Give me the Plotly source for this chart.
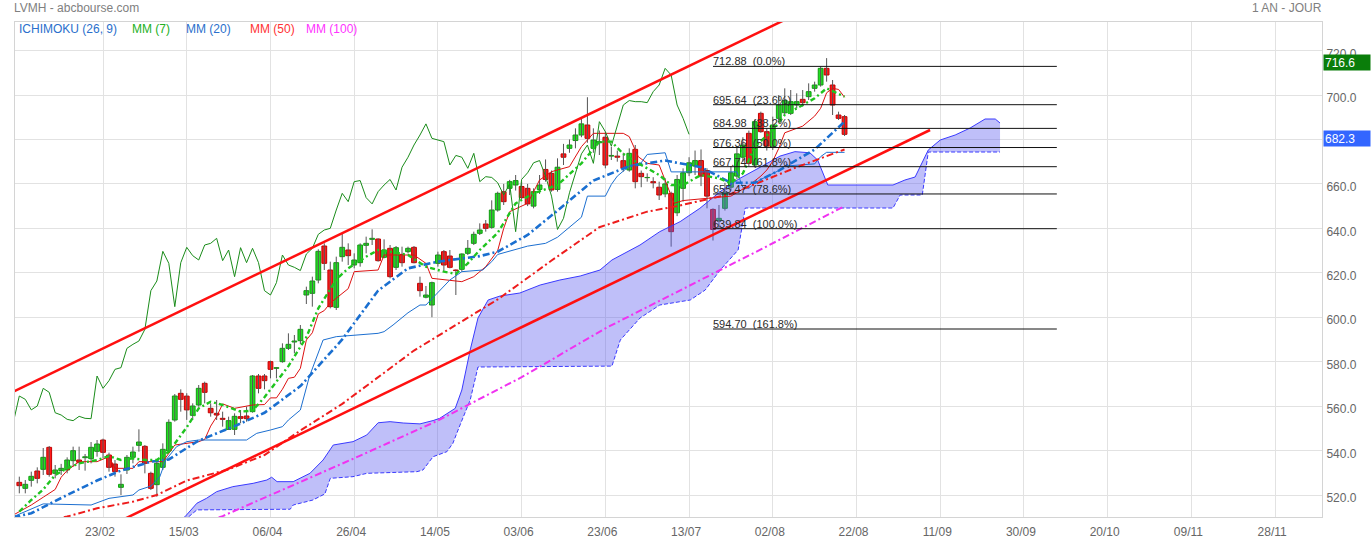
import plotly.graph_objects as go

# ---------------- DATA ----------------
day_idx = list(range(139))

opens = [
525.7, 523.0, 526.6, 530.8, 531.55, 541.45, 529.75, 531.0, 531.25, 535.45,
535.75, 536.8, 536.35, 539.65, 544.75, 538.0, 533.95, 523.45, 531.25, 536.95,
542.35, 541.9, 529.75, 524.65, 532.45, 539.8, 553.75, 565.75, 564.5, 555.85,
560.5, 570.25, 559.0, 556.75, 554.5, 549.5, 549.55, 555.25, 555.55, 557.5,
573.55, 573.55, 580.0, 577.0, 580.0, 586.0, 588.85, 589.45, 610.0, 610.75,
616.75, 632.05, 621.25, 604.45, 627.25, 630.25, 623.5, 624.55, 632.35, 635.05,
635.2, 626.95, 631.0, 622.45, 628.3, 629.5, 631.45, 615.25, 609.0, 605.5,
624.25, 629.5, 627.55, 621.25, 621.55, 628.75, 633.25, 637.75, 641.95, 640.45,
648.25, 656.5, 658.0, 659.5, 658.8, 658.0, 650.0, 657.5, 666.5, 664.75,
657.5, 673.5, 676.0, 679.5, 682.0, 686.5, 676.0, 678.5, 681.0, 672.5,
672.5, 670.45, 666.25, 675.55, 664.75, 662.8, 661.0, 658.5, 655.5, 655.75,
647.0, 658.0, 665.0, 668.0, 670.5, 666.0, 648.5, 643.5, 649.0, 658.5,
663.5, 672.0, 682.75, 668.5, 691.75, 683.5, 676.75, 689.5, 692.0, 691.75,
695.5, 698.05, 699.25, 703.0, 704.5, 712.0, 704.5, 691.0, 690.25]

highs = [
528.25, 526.75, 530.5, 532.45, 541.15, 542.05, 533.5, 534.0, 536.95, 541.75,
541.75, 538.45, 543.85, 544.75, 545.35, 539.05, 535.75, 529.3, 538.0, 541.75,
549.55, 542.5, 530.5, 535.75, 543.25, 554.05, 565.45, 567.55, 565.8, 561.25,
569.5, 571.0, 561.25, 562.75, 557.5, 555.25, 556.75, 558.25, 559.75, 574.0,
574.45, 574.45, 580.45, 577.6, 588.25, 592.75, 592.0, 596.5, 613.75, 618.25,
630.55, 633.25, 625.0, 627.25, 637.75, 633.25, 628.75, 633.25, 636.25, 639.55,
635.5, 635.05, 632.5, 632.05, 631.75, 631.75, 632.05, 618.25, 614.05, 616.0,
629.5, 630.25, 630.25, 621.5, 628.75, 634.75, 638.5, 642.25, 643.75, 652.6,
656.5, 660.0, 661.8, 664.0, 661.0, 660.0, 658.0, 664.0, 671.0, 666.0,
671.5, 678.0, 680.0, 685.0, 689.5, 699.0, 685.0, 684.0, 683.5, 676.75,
675.0, 674.0, 676.0, 677.5, 666.0, 664.75, 663.0, 661.0, 662.5, 656.5,
664.0, 667.0, 672.0, 675.0, 675.5, 667.0, 649.0, 650.5, 660.5, 668.0,
676.5, 681.0, 684.0, 689.0, 692.5, 685.0, 690.25, 700.0, 703.0, 702.25,
700.75, 702.25, 705.25, 706.0, 712.75, 716.6, 706.75, 692.5, 691.0]

lows = [
520.75, 520.75, 523.75, 525.25, 529.0, 528.25, 527.5, 529.0, 529.75, 532.75,
531.25, 530.95, 534.25, 537.25, 536.5, 530.5, 528.25, 520.0, 529.45, 534.25,
539.5, 529.75, 522.25, 519.25, 531.25, 539.5, 553.0, 557.5, 553.8, 553.75,
559.75, 561.25, 555.25, 553.75, 550.75, 549.25, 547.0, 552.25, 553.0, 557.05,
565.75, 567.55, 572.5, 572.5, 579.55, 585.25, 583.75, 587.95, 605.95, 604.75,
615.25, 621.25, 604.0, 603.25, 625.0, 623.5, 622.0, 622.75, 628.75, 632.5,
625.0, 626.5, 617.5, 621.25, 622.75, 628.75, 624.25, 609.25, 608.5, 600.0,
622.75, 620.5, 622.0, 610.0, 620.5, 628.0, 632.5, 637.0, 638.5, 639.85,
647.5, 650.5, 655.0, 657.0, 653.0, 650.0, 649.0, 655.5, 661.0, 656.5,
656.5, 668.5, 674.0, 676.0, 681.0, 678.5, 674.0, 673.0, 667.0, 670.75,
670.0, 665.5, 665.5, 658.0, 658.5, 661.0, 658.0, 652.75, 654.0, 631.75,
645.5, 652.0, 663.5, 664.0, 659.0, 649.0, 634.5, 640.0, 648.0, 657.0,
662.0, 670.0, 668.0, 667.5, 683.0, 675.0, 675.25, 688.75, 691.0, 691.0,
694.0, 694.75, 697.75, 701.5, 703.75, 706.0, 691.0, 688.75, 681.55]

closes = [
524.2, 524.8, 528.4, 527.5, 536.95, 529.3, 531.25, 532.0, 535.75, 539.95,
534.7, 537.2, 541.45, 542.95, 539.2, 532.45, 530.5, 524.8, 536.95, 539.35,
543.85, 534.25, 523.0, 534.25, 540.55, 552.7, 564.55, 563.05, 558.3, 560.05,
568.0, 566.2, 557.0, 556.0, 554.05, 553.45, 555.4, 554.5, 554.35, 573.55,
568.0, 571.45, 576.55, 577.3, 586.0, 587.8, 589.3, 594.55, 611.95, 616.3,
629.65, 624.25, 604.75, 624.55, 631.45, 627.7, 625.75, 632.5, 633.25, 635.5,
625.45, 630.25, 618.25, 631.3, 624.55, 631.0, 624.55, 611.95, 610.0, 615.55,
628.0, 623.5, 622.45, 621.0, 628.45, 631.0, 637.3, 639.25, 640.0, 648.25,
655.75, 652.0, 661.0, 661.5, 653.8, 651.0, 656.5, 659.5, 662.0, 657.25,
667.5, 672.0, 677.5, 682.0, 687.0, 680.5, 679.75, 679.0, 668.5, 672.8,
672.0, 667.0, 673.75, 661.0, 663.25, 662.9, 660.5, 655.0, 660.0, 638.5,
662.0, 665.0, 669.5, 670.5, 663.5, 654.5, 639.5, 644.5, 656.0, 665.0,
673.5, 677.5, 669.25, 688.0, 683.5, 677.0, 686.5, 695.5, 697.5, 697.0,
697.0, 696.55, 701.5, 704.5, 712.0, 709.0, 695.5, 689.5, 682.3]

tick_idx = [14, 28, 42, 56, 70, 84, 98, 112, 126, 140, 154, 168, 182, 196, 210]
tick_labels = ["23/02", "15/03", "06/04", "26/04", "14/05", "03/06", "23/06", "13/07",
               "02/08", "22/08", "11/09", "30/09", "20/10", "09/11", "28/11"]
price_ticks = [520, 540, 560, 580, 600, 620, 640, 660, 680, 700, 720]
hidden_price_ticks = [680]  # covered by the last-close box in the reference

ma7_idx = [0, 2, 4, 6, 8, 10, 13, 15, 17, 19, 21, 23, 25, 28, 30, 32, 34, 37, 39, 41, 45, 48, 50, 53,
           55, 58, 60, 62, 65, 68, 71, 73, 75, 77, 80, 83, 86, 90, 94, 97, 99, 101, 104, 107, 109,
           111, 114, 117, 119, 121, 123, 126, 128, 131, 133, 135, 138]
ma7_val = [512.5, 517.75, 522.5, 529, 532, 534.25, 535.75, 537.5, 535.75, 536.5, 535.75, 535.75,
           539.5, 550.5, 559, 562, 560.5, 557.5, 558, 564, 578, 591, 604, 617, 622, 627.25, 630.25,
           629.5, 628, 622.75, 620.5, 619.5, 624.25, 630.25, 638, 651.25, 655.75, 659.5, 669.25,
           679, 679, 673.5, 668.5, 664, 659.5, 659.5, 664, 662.5, 660.25, 664.75, 676.75, 684.25,
           691, 695.5, 698.5, 703, 699.25]

ma20_idx = [-1, 2, 8, 13, 17, 22, 25, 30, 36, 41, 47, 54, 60, 65, 70, 77, 80, 85, 90, 96, 102,
            108, 114, 119, 123, 127, 133, 138]
ma20_val = [510, 511.8, 520, 526.5, 531, 535, 536, 544.5, 551, 557, 569, 590, 612, 622, 625,
            627.5, 629.5, 637, 648, 661.5, 668, 670.5, 667.5, 660.5, 660.5, 666, 675.5, 688]

ma50_idx = [5, 8, 13, 19, 23, 28, 35, 41, 47, 54, 66, 80, 89, 97, 105, 110, 119, 130, 138]
ma50_val = [508.5, 510.3, 514, 517, 520, 526.5, 531.5, 538, 549, 561, 585, 608, 625.5, 640.5,
            647.5, 650, 655.5, 667.5, 675.5]

ma100_idx = [31, 34, 45, 56, 70, 84, 98, 112, 124, 138]
ma100_val = [507.5, 510.5, 523.5, 536.5, 553.5, 573, 595, 614, 630.5, 650]

tenkan_idx = [-1, 2, 4, 6, 7, 8, 10, 13, 15, 16, 19, 20, 24, 25, 26, 30, 31, 32, 33, 34, 36, 39,
              41, 42, 43, 44, 45, 46, 47, 48, 49, 50, 51, 52, 53, 54, 55, 56, 60, 61, 66, 68, 69,
              74, 76, 78, 80, 81, 82, 85, 87, 89, 92, 94, 96, 101, 102, 103.5, 105, 107, 108,
              109.5, 111, 119, 122, 124, 125, 126, 127, 128, 131, 133, 134, 135, 136, 137, 138]
tenkan_val = [511, 515.5, 519, 522.5, 528, 531, 535, 535, 537.25, 532, 532, 535, 535, 539, 542.5,
              544, 545, 551, 555.25, 561, 559, 560.5, 560.7, 563.7, 563.7, 567.6, 572.5, 573, 577,
              589.75, 593, 601.5, 603, 606.4, 608.5, 610.75, 612.85, 620.5, 621.25, 628, 628,
              624.25, 617.5, 616, 618.25, 622.75, 630, 640, 647.5, 651.25, 661.75, 665.5, 667.75,
              676.75, 682.75, 682.75, 681.25, 672.25, 669.25, 668.5, 661.75, 651.25, 652.5, 654.5,
              659.25, 663.5, 666.25, 670.25, 676, 683, 686, 690.5, 694, 701, 703, 702.5, 699]

kijun_idx = [-1, 4, 12, 15, 19, 20, 22, 23.5, 24.5, 26.3, 28, 30, 38, 39.7, 42, 44, 45, 47, 48.5,
             49.7, 50.8, 53, 57.5, 60, 61, 62.5, 65, 67, 68, 70, 72, 74, 77.5, 79, 80, 85, 88,
             90, 94, 95, 98, 99, 100, 101, 102, 104, 105, 108, 109, 120, 121, 122, 123, 124,
             127, 128, 133, 134, 135, 138]
kijun_val = [510.25, 516, 515.5, 518.5, 520, 522.25, 524, 528.25, 535.75, 541.75, 544, 544.75,
             544.75, 547.75, 549.25, 550.75, 553.75, 558.25, 573.25, 582.25, 589.75, 591.25,
             592, 592.75, 593.5, 596.5, 602, 605.5, 605.5, 611, 616.75, 620.5, 621.25, 625,
             628.25, 632, 633.25, 636, 645, 654.5, 654.5, 659.75, 663.5, 665.75, 668, 669.5,
             673.25, 674, 665.4, 665.4, 658.4, 658, 660.4, 662, 666, 668, 669, 672.25, 674.2,
             674.2]

span_a_idx = [26, 27.7, 29.7, 31.3, 33, 35.7, 39.1, 41.4, 42.2, 43.1, 45.8, 48.6, 50.8, 52.5,
              55.8, 58.1, 60, 62, 64.2, 67, 69.2, 70.3, 72.9, 74, 75.4, 76.7, 78.4, 80.4, 83.7,
              87.1, 90.4, 93.8, 97.1, 99.1, 103.8, 107.1, 110.5, 113.8, 117.2, 120.5, 123.9,
              127.2, 129.7, 132.2, 133.5, 134.5, 135.2, 146.1, 148.1, 149.8, 152, 154, 156.5,
              159, 161.5, 163.2, 164]
span_a_val = [507, 510.2, 516.3, 518.5, 521.5, 523.75, 525.25, 526.75, 528, 526, 526, 529.75,
              535.75, 542.5, 544, 547, 552.5, 553, 552.4, 552, 553.5, 554.5, 559, 567.25, 585.25,
              599.65, 607.75, 609.55, 610.9, 614.5, 616.75, 618.55, 621.25, 625.75, 632.5, 638.5,
              643, 649, 656.5, 662.5, 667.5, 672.5, 674.5, 674, 670.75, 664, 659.5, 659.5,
              661.75, 663.1, 675.25, 679.75, 682, 685.15, 689.2, 689.2, 687.4]

span_b_idx = [26, 29.7, 45.3, 45.8, 49.1, 51.1, 52, 55.8, 58.1, 66.5, 67.5, 69.2, 71.5, 72.5,
              73.7, 75.4, 76.7, 99.1, 100.5, 103.8, 107.1, 112.2, 114.7, 117.2, 120.2, 121.4,
              146.1, 147.3, 151, 152, 164]
span_b_val = [505, 513.3, 513.6, 515.5, 517.75, 520.5, 527.5, 528.25, 529.75, 530.5, 531.25,
              537.25, 539.5, 543.25, 551.5, 562.75, 577.6, 578, 589.75, 599.65, 605.5, 607.75,
              612.25, 621.25, 630.25, 649.15, 649.15, 655, 655, 674.35, 674.35]

channel_upper_idx = [-2, 130]
channel_upper_val = [565.2, 736.4]
channel_lower_idx = [14, 152.3]
channel_lower_val = [504.6, 684.25]

fib_levels = [712.88, 695.64, 684.98, 676.36, 667.74, 655.47, 639.84, 594.70]
fib_pcts = ["0.0", "23.6", "38.2", "50.0", "61.8", "78.6", "100.0", "161.8"]
fib_span = [116, 173.5]

last_high = 716.6
last_close = 682.3

# ---------------- FIGURE ----------------
W, H = 1371, 541
ML, MR, MT, MB = 15, 49, 22, 24
PW, PH = W - ML - MR, H - MT - MB
FONT = "Liberation Sans, Arial, Helvetica, sans-serif"


def px_x(p):  # page pixel -> paper x
    return (p - ML) / PW


def px_y(p):  # page pixel -> paper y
    return (H - MB - p) / PH


fig = go.Figure()

# wicks
wx, wy = [], []
for i, h, l in zip(day_idx, highs, lows):
    wx += [i, i, None]
    wy += [l, h, None]
fig.add_trace(go.Scatter(x=wx, y=wy, mode="lines", line=dict(color="#555555", width=1),
                         hoverinfo="skip"))

# bodies
is_up = [c >= o for o, c in zip(opens, closes)]
fig.add_trace(go.Bar(
    x=day_idx,
    y=[abs(c - o) for o, c in zip(opens, closes)],
    base=[min(o, c) for o, c in zip(opens, closes)],
    width=0.8,
    marker=dict(color=["#22e022" if u else "#ff1a1a" for u in is_up],
                line=dict(color=["#119a11" if u else "#c00000" for u in is_up], width=1)),
    hoverinfo="skip"))

# ichimoku cloud
fig.add_trace(go.Scatter(x=span_a_idx + span_b_idx[::-1], y=span_a_val + span_b_val[::-1],
                         fill="toself", fillcolor="rgba(95,95,240,0.40)", mode="lines",
                         line=dict(width=0), hoverinfo="skip"))
fig.add_trace(go.Scatter(x=span_a_idx, y=span_a_val, mode="lines",
                         line=dict(color="#3a3aff", width=1), hoverinfo="skip"))
fig.add_trace(go.Scatter(x=span_b_idx, y=span_b_val, mode="lines",
                         line=dict(color="#3a3aff", width=1, dash="4px,2px"), hoverinfo="skip"))

# tenkan / kijun / chikou
fig.add_trace(go.Scatter(x=tenkan_idx, y=tenkan_val, mode="lines",
                         line=dict(color="#dd1111", width=1), hoverinfo="skip"))
fig.add_trace(go.Scatter(x=kijun_idx, y=kijun_val, mode="lines",
                         line=dict(color="#1c6fd0", width=1), hoverinfo="skip"))
fig.add_trace(go.Scatter(x=[i - 26 for i in day_idx[25:]], y=closes[25:], mode="lines",
                         line=dict(color="#1a8c1a", width=1), hoverinfo="skip"))

# moving averages
fig.add_trace(go.Scatter(x=ma100_idx, y=ma100_val, mode="lines",
                         line=dict(color="#f032f0", width=2, dash="7px,3px,2px,3px"), hoverinfo="skip"))
fig.add_trace(go.Scatter(x=ma50_idx, y=ma50_val, mode="lines",
                         line=dict(color="#ee1c1c", width=2, dash="7px,3px,2px,3px"), hoverinfo="skip"))
fig.add_trace(go.Scatter(x=ma20_idx, y=ma20_val, mode="lines",
                         line=dict(color="#1a6fd0", width=2.6, dash="7px,3px,2px,3px"), hoverinfo="skip"))
fig.add_trace(go.Scatter(x=ma7_idx, y=ma7_val, mode="lines",
                         line=dict(color="#1fc41f", width=2.4, dash="5px,3px,2px,3px"), hoverinfo="skip"))

# trend channel
fig.add_trace(go.Scatter(x=channel_upper_idx, y=channel_upper_val, mode="lines",
                         line=dict(color="#ff1010", width=2.5), hoverinfo="skip"))
fig.add_trace(go.Scatter(x=channel_lower_idx, y=channel_lower_val, mode="lines",
                         line=dict(color="#ff1010", width=2.5), hoverinfo="skip"))

# fibonacci
annotations = []
for lvl, pct in zip(fib_levels, fib_pcts):
    fig.add_trace(go.Scatter(x=fib_span, y=[lvl, lvl], mode="lines",
                             line=dict(color="#111111", width=1), hoverinfo="skip"))
    annotations.append(dict(x=fib_span[0], y=lvl, xref="x", yref="y", xanchor="left",
                            yanchor="middle", xshift=-2, yshift=5, showarrow=False,
                            text=f"{lvl:.2f}\u00a0\u00a0({pct}%)",
                            font=dict(family=FONT, size=11, color="#2a2a2a")))

# price boxes
for val, col in [(last_high, "#0a7d0a"), (last_close, "#3366ff")]:
    annotations.append(dict(x=1, y=val, xref="paper", yref="y", xanchor="left", yanchor="middle",
                            xshift=1, yshift=-4, showarrow=False, text=f"{val:.1f}",
                            bgcolor=col, width=44, height=13, align="left", borderpad=1,
                            font=dict(family=FONT, size=12, color="white")))

# header texts
annotations.append(dict(x=px_x(14), y=px_y(8), xref="paper", yref="paper", xanchor="left",
                        yanchor="middle", xshift=-2, showarrow=False, text="LVMH - abcbourse.com",
                        font=dict(family=FONT, size=12, color="#808080")))
annotations.append(dict(x=px_x(1322), y=px_y(8), xref="paper", yref="paper", xanchor="right",
                        yanchor="middle", xshift=2, showarrow=False, text="1 AN - JOUR",
                        font=dict(family=FONT, size=12, color="#808080")))
for txt, col, xp in [("ICHIMOKU (26, 9)", "#2a6fcc", 19), ("MM (7)", "#22b022", 132),
                     ("MM (20)", "#2a6fcc", 186), ("MM (50)", "#ff3333", 250),
                     ("MM (100)", "#ff33ff", 306)]:
    annotations.append(dict(x=px_x(xp), y=px_y(29.5), xref="paper", yref="paper",
                            xanchor="left", yanchor="middle", xshift=-2, showarrow=False, text=txt,
                            font=dict(family=FONT, size=12, color=col)))

fig.update_layout(
    width=W, height=H, autosize=False,
    margin=dict(l=ML, r=MR, t=MT, b=MB, pad=0, autoexpand=False),
    paper_bgcolor="white", plot_bgcolor="white",
    showlegend=False,
    bargap=0,
    annotations=annotations,
    xaxis=dict(range=[-0.72, 217.84], tickmode="array", tickvals=tick_idx, ticktext=tick_labels,
               showgrid=True, gridcolor="#e2e2e2", gridwidth=1, zeroline=False,
               showline=True, linecolor="#d4d4d4", linewidth=1, mirror=True, automargin=False,
               ticks="", ticklabelshift=-3, ticklabelstandoff=4,
               tickfont=dict(family=FONT, size=12, color="#666666"), fixedrange=True),
    yaxis=dict(range=[510.1, 732.85], side="right", tickmode="array", tickvals=price_ticks,
               ticktext=["" if v in hidden_price_ticks else f"{v:.1f}" for v in price_ticks],
               showgrid=True, gridcolor="#e2e2e2", gridwidth=1, zeroline=False,
               showline=True, linecolor="#d4d4d4", linewidth=1, mirror=True, automargin=False,
               ticks="", ticklabelshift=3, ticklabelstandoff=1,
               tickfont=dict(family=FONT, size=12, color="#666666"), fixedrange=True),
)

# remove the browser's default 8px page margin so the figure sits at the window origin
fig.write_html("out.html",
               config={"displayModeBar": False, "staticPlot": True},
               post_script="document.body.style.margin='0px';document.body.style.padding='0px';")
